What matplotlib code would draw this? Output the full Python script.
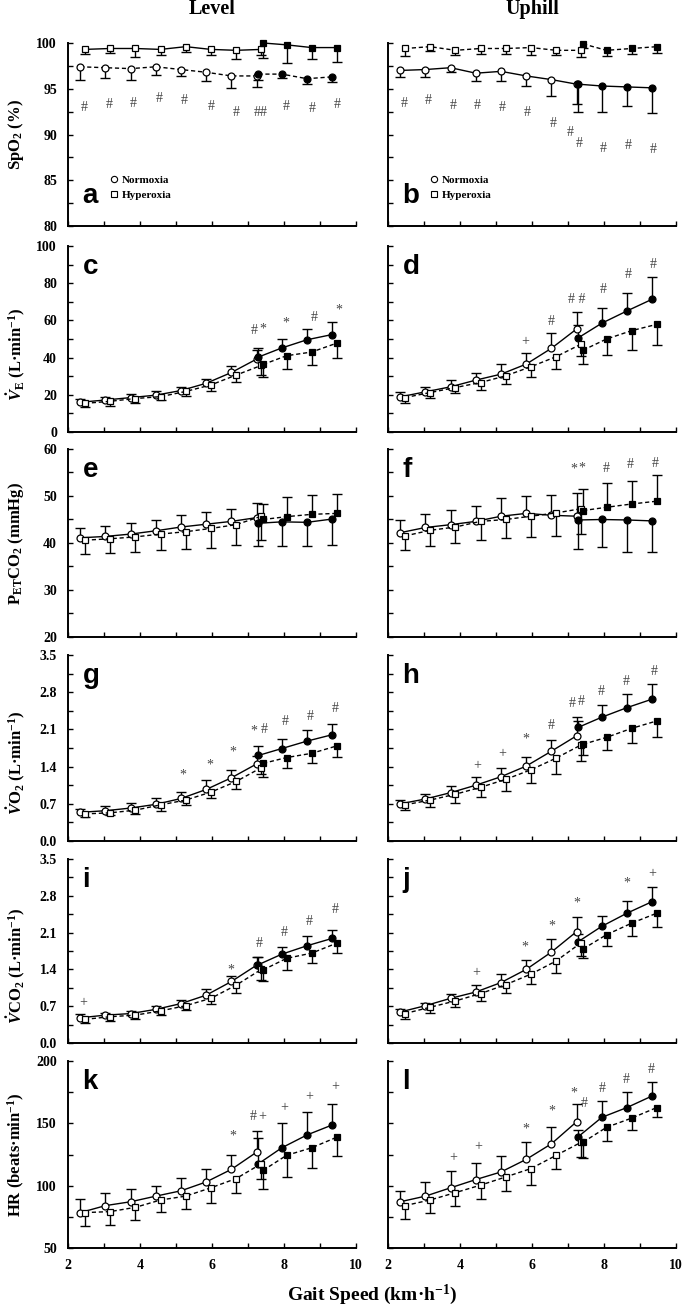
import matplotlib.pyplot as plt
from matplotlib.lines import Line2D
from matplotlib.ticker import MultipleLocator, FormatStrFormatter

plt.rcParams['font.family'] = 'Liberation Serif'
plt.rcParams['font.weight'] = 'bold'
plt.rcParams['mathtext.fontset'] = 'custom'
plt.rcParams['mathtext.rm'] = 'Liberation Serif:bold'
plt.rcParams['mathtext.it'] = 'Liberation Serif:italic:bold'
plt.rcParams['mathtext.bf'] = 'Liberation Serif:bold'

# gait speed of each stage: 8 walking stages (open symbols), 4 running stages (filled)
speed = [2.4, 3.1, 3.8, 4.5, 5.2, 5.9, 6.6, 7.3, 7.35, 8.0, 8.7, 9.4]

# SpO2 (%)
spo2_lv_n = [97.4, 97.3, 97.2, 97.4, 97.1, 96.8, 96.4, 96.4, 96.6, 96.6, 96.1, 96.3]
spo2_lv_n_sd = [1.4, 1.1, 1.2, 0.9, 0.7, 1.0, 1.3, 1.2, 0.6, 0.4, 0.6, 0.6]
spo2_lv_h = [99.3, 99.4, 99.4, 99.3, 99.6, 99.3, 99.2, 99.3, 100.0, 99.8, 99.5, 99.5]
spo2_lv_h_sd = [0.5, 0.5, 0.9, 0.6, 0.6, 0.6, 0.9, 0.6, 1.6, 2.0, 1.3, 1.6]
spo2_up_n = [97.0, 97.1, 97.3, 96.7, 96.9, 96.4, 96.0, 95.5, 95.5, 95.3, 95.2, 95.1]
spo2_up_n_sd = [0.7, 0.8, 0.45, 0.8, 1.1, 1.1, 1.8, 2.2, 3.0, 2.8, 2.1, 2.7]
spo2_up_h = [99.4, 99.6, 99.2, 99.4, 99.4, 99.5, 99.2, 99.2, 99.9, 99.2, 99.4, 99.6]
spo2_up_h_sd = [0.8, 0.5, 0.5, 0.6, 0.6, 0.8, 0.5, 0.7, 0.45, 0.6, 0.6, 0.7]

# VE (L/min)
ve_lv_n = [16.0, 17.2, 18.5, 19.8, 22.3, 26.2, 32.0, 39.2, 40.3, 45.2, 49.6, 52.4]
ve_lv_n_sd = [1.8, 1.8, 1.8, 2.0, 2.0, 2.3, 3.3, 5.0, 5.0, 4.8, 6.0, 6.5]
ve_lv_h = [15.4, 16.5, 18.0, 19.0, 21.8, 25.3, 30.6, 35.8, 36.3, 41.0, 43.0, 47.8]
ve_lv_h_sd = [2.0, 2.5, 2.6, 2.0, 2.5, 3.0, 3.8, 5.0, 6.5, 7.0, 7.0, 8.0]
ve_up_n = [18.9, 21.6, 24.3, 27.9, 31.1, 36.5, 45.0, 55.4, 50.7, 58.5, 65.1, 71.4]
ve_up_n_sd = [2.7, 2.7, 3.6, 3.9, 5.4, 5.8, 8.1, 9.2, 6.8, 8.4, 9.5, 11.9]
ve_up_h = [18.5, 21.2, 23.9, 26.6, 30.2, 35.1, 40.5, 47.3, 44.0, 50.0, 54.5, 57.9]
ve_up_h_sd = [2.7, 2.9, 3.2, 4.1, 4.5, 5.4, 6.7, 6.5, 7.2, 8.6, 10.4, 11.2]

# PETCO2 (mmHg)
pet_lv_n = [41.1, 41.4, 41.9, 42.6, 43.4, 44.0, 44.6, 45.4, 44.2, 44.5, 44.4, 45.1]
pet_lv_n_sd = [2.0, 2.2, 2.4, 2.3, 2.5, 2.6, 2.7, 3.2, 4.9, 5.2, 5.1, 5.5]
pet_lv_h = [40.6, 40.9, 41.3, 41.9, 42.4, 43.1, 43.9, 45.7, 45.0, 45.6, 46.1, 46.3]
pet_lv_h_sd = [3.0, 3.0, 3.2, 3.4, 3.6, 4.1, 4.4, 5.0, 3.3, 4.2, 4.1, 4.2]
pet_up_n = [42.2, 43.3, 43.9, 44.6, 45.7, 46.3, 45.9, 45.7, 44.9, 45.0, 44.9, 44.7]
pet_up_n_sd = [2.7, 2.8, 3.1, 3.2, 3.9, 3.7, 4.3, 5.0, 6.1, 5.8, 6.9, 6.7]
pet_up_h = [41.5, 42.7, 43.4, 44.6, 45.0, 45.7, 46.4, 47.3, 46.9, 47.6, 48.3, 48.9]
pet_up_h_sd = [3.0, 3.4, 3.5, 3.9, 4.0, 4.4, 4.9, 5.3, 4.6, 5.1, 4.9, 5.6]

# VO2 (L/min)
vo2_lv_n = [0.54, 0.57, 0.62, 0.69, 0.80, 0.97, 1.19, 1.45, 1.61, 1.74, 1.88, 2.00]
vo2_lv_n_sd = [0.06, 0.08, 0.09, 0.11, 0.13, 0.17, 0.15, 0.15, 0.18, 0.18, 0.21, 0.20]
vo2_lv_h = [0.51, 0.53, 0.58, 0.68, 0.77, 0.92, 1.12, 1.38, 1.46, 1.57, 1.65, 1.79]
vo2_lv_h_sd = [0.06, 0.05, 0.07, 0.11, 0.09, 0.12, 0.15, 0.11, 0.26, 0.20, 0.18, 0.20]
vo2_up_n = [0.70, 0.79, 0.91, 1.05, 1.21, 1.41, 1.69, 1.98, 2.14, 2.33, 2.51, 2.67]
vo2_up_n_sd = [0.08, 0.09, 0.13, 0.15, 0.17, 0.18, 0.21, 0.35, 0.11, 0.22, 0.26, 0.28]
vo2_up_h = [0.68, 0.77, 0.88, 1.01, 1.16, 1.34, 1.56, 1.81, 1.82, 1.95, 2.12, 2.26]
vo2_up_h_sd = [0.10, 0.13, 0.16, 0.19, 0.21, 0.24, 0.30, 0.30, 0.20, 0.24, 0.27, 0.30]

# VCO2 (L/min)
vco2_lv_n = [0.48, 0.53, 0.56, 0.64, 0.75, 0.91, 1.17, 1.48, 1.49, 1.69, 1.85, 1.99]
vco2_lv_n_sd = [0.07, 0.05, 0.05, 0.06, 0.07, 0.11, 0.10, 0.16, 0.15, 0.13, 0.19, 0.16]
vco2_lv_h = [0.45, 0.50, 0.53, 0.61, 0.71, 0.85, 1.10, 1.40, 1.39, 1.61, 1.71, 1.90]
vco2_lv_h_sd = [0.07, 0.08, 0.07, 0.08, 0.09, 0.11, 0.14, 0.20, 0.21, 0.22, 0.18, 0.18]
vco2_up_n = [0.59, 0.71, 0.85, 0.97, 1.15, 1.40, 1.73, 2.12, 1.93, 2.22, 2.47, 2.69]
vco2_up_n_sd = [0.05, 0.05, 0.08, 0.13, 0.16, 0.17, 0.24, 0.27, 0.15, 0.20, 0.24, 0.28]
vco2_up_h = [0.56, 0.68, 0.80, 0.94, 1.11, 1.31, 1.56, 1.91, 1.79, 2.06, 2.28, 2.47]
vco2_up_h_sd = [0.10, 0.10, 0.11, 0.14, 0.15, 0.19, 0.22, 0.25, 0.18, 0.21, 0.24, 0.27]

# HR (beats/min)
hr_lv_n = [78.4, 84.0, 87.1, 91.6, 95.9, 103.0, 113.1, 126.9, 117.6, 130.4, 140.7, 148.7]
hr_lv_n_sd = [10.6, 9.8, 9.9, 8.5, 10.6, 10.7, 11.7, 17.3, 20.4, 19.6, 18.1, 16.7]
hr_lv_h = [78.4, 79.2, 82.6, 88.5, 91.6, 98.3, 105.7, 117.6, 112.3, 124.3, 130.4, 138.9]
hr_lv_h_sd = [10.6, 10.6, 10.1, 9.9, 10.3, 12.0, 11.9, 12.4, 15.1, 17.3, 16.2, 15.4]
hr_up_n = [87.1, 91.6, 98.3, 104.9, 111.0, 121.1, 133.6, 151.3, 139.4, 154.8, 162.7, 172.0]
hr_up_n_sd = [8.8, 11.4, 13.5, 13.3, 12.7, 13.8, 13.7, 14.6, 5.0, 13.2, 12.8, 11.4]
hr_up_h = [84.0, 88.5, 94.4, 100.4, 107.0, 113.7, 124.3, 134.9, 134.9, 146.8, 154.2, 162.7]
hr_up_h_sd = [10.7, 10.6, 10.7, 11.4, 11.1, 12.8, 11.2, 12.0, 12.5, 10.6, 9.5, 7.9]

# significance marks (x, y, symbol)
ann_a = [(2.46, 93.0, '#'), (3.15, 93.3, '#'), (3.82, 93.4, '#'), (4.54, 93.9, '#'), (5.24, 93.7, '#'),
         (5.97, 93.1, '#'), (6.66, 92.4, '#'), (7.36, 92.4, '##'), (8.06, 93.1, '#'), (8.78, 92.8, '#'),
         (9.48, 93.25, '#')]
ann_b = [(2.44, 93.4, '#'), (3.11, 93.7, '#'), (3.80, 93.2, '#'), (4.48, 93.2, '#'), (5.17, 93.0, '#'),
         (5.86, 92.4, '#'), (6.59, 91.2, '#'), (7.06, 90.2, '#'), (7.31, 89.0, '#'), (7.97, 88.5, '#'),
         (8.67, 88.8, '#'), (9.38, 88.4, '#')]
ann_c = [(7.16, 54.7, '#'), (7.41, 55.5, '*'), (8.06, 58.5, '*'), (8.83, 61.5, '#'), (9.52, 65.5, '*')]
ann_d = [(5.82, 48.6, '+'), (6.53, 59.4, '#'), (7.23, 71.1, '# #'), (7.97, 76.4, '#'), (8.67, 84.5, '#'),
         (9.36, 90.3, '#')]
ann_e = []
ann_f = [(7.15, 55.7, '*'), (7.38, 55.9, '*'), (8.05, 55.9, '#'), (8.72, 56.7, '#'), (9.42, 56.9, '#')]
ann_g = [(5.19, 1.24, '*'), (5.94, 1.43, '*'), (6.59, 1.68, '*'), (7.16, 2.06, '*'), (7.44, 2.09, '#'),
         (8.04, 2.25, '#'), (8.74, 2.34, '#'), (9.41, 2.50, '#')]
ann_h = [(4.49, 1.41, '+'), (5.17, 1.65, '+'), (5.84, 1.91, '*'), (6.53, 2.18, '#'), (7.12, 2.59, '#'),
         (7.38, 2.62, '#'), (7.92, 2.82, '#'), (8.63, 3.01, '#'), (9.39, 3.19, '#')]
ann_i = [(2.43, 0.76, '+'), (6.52, 1.38, '*'), (7.32, 1.89, '#'), (8.00, 2.10, '#'), (8.71, 2.32, '#'),
         (9.41, 2.54, '#')]
ann_j = [(4.45, 1.34, '+'), (5.81, 1.82, '*'), (6.54, 2.23, '*'), (7.24, 2.66, '*'), (8.63, 3.04, '*'),
         (9.34, 3.22, '+')]
ann_k = [(6.59, 140.2, '*'), (7.15, 155.3, '#'), (7.39, 155.3, '+'), (8.00, 162.7, '+'), (8.71, 171.2, '+'),
         (9.41, 179.2, '+')]
ann_l = [(3.80, 122.4, '+'), (4.51, 131.4, '+'), (5.84, 145.5, '*'), (6.54, 160.1, '*'), (7.17, 173.9, '*'),
         (7.46, 165.9, '#'), (7.94, 178.1, '#'), (8.63, 185.3, '#'), (9.31, 193.2, '#')]

N_SHIFT = -0.06
H_SHIFT = 0.07
DASH = (0, (3, 2))

# rows: (top px, bottom px, ylim, major, minor, fmt, ylabel, label y)
rows = [
    (43, 226, (80, 100), 5, 2.5, '%d', 'SpO$_2$ (%)', 0.5),
    (246, 432, (0, 100), 20, 10, '%d', r'$\dot{V}_\mathrm{E}$ (L·min$^{-1}$)', 0.42),
    (449, 637, (20, 60), 10, 5, '%d', r'P$_\mathrm{ET}$CO$_2$ (mmHg)', 0.5),
    (655, 841, (0, 3.5), 0.7, 0.35, '%.1f', r'$\dot{V}$O$_2$ (L·min$^{-1}$)', 0.42),
    (859, 1043, (0, 3.5), 0.7, 0.35, '%.1f', r'$\dot{V}$CO$_2$ (L·min$^{-1}$)', 0.42),
    (1061, 1248, (50, 200), 50, 25, '%d', 'HR (beats·min$^{-1}$)', 0.5),
]

# panels: letter, row, col, normoxia, normoxia sd, hyperoxia, hyperoxia sd, marks,
# line style (norm, hyp), error direction (norm walk, norm run, hyp walk, hyp run)
panels = [
    ('a', 0, 0, spo2_lv_n, spo2_lv_n_sd, spo2_lv_h, spo2_lv_h_sd, ann_a, (DASH, '-'), (-1, -1, -1, -1)),
    ('b', 0, 1, spo2_up_n, spo2_up_n_sd, spo2_up_h, spo2_up_h_sd, ann_b, ('-', DASH), (-1, -1, -1, -1)),
    ('c', 1, 0, ve_lv_n, ve_lv_n_sd, ve_lv_h, ve_lv_h_sd, ann_c, ('-', DASH), (1, 1, -1, -1)),
    ('d', 1, 1, ve_up_n, ve_up_n_sd, ve_up_h, ve_up_h_sd, ann_d, ('-', DASH), (1, 1, -1, -1)),
    ('e', 2, 0, pet_lv_n, pet_lv_n_sd, pet_lv_h, pet_lv_h_sd, ann_e, ('-', DASH), (1, -1, -1, 1)),
    ('f', 2, 1, pet_up_n, pet_up_n_sd, pet_up_h, pet_up_h_sd, ann_f, ('-', DASH), (1, -1, -1, 1)),
    ('g', 3, 0, vo2_lv_n, vo2_lv_n_sd, vo2_lv_h, vo2_lv_h_sd, ann_g, ('-', DASH), (1, 1, -1, -1)),
    ('h', 3, 1, vo2_up_n, vo2_up_n_sd, vo2_up_h, vo2_up_h_sd, ann_h, ('-', DASH), (1, 1, -1, -1)),
    ('i', 4, 0, vco2_lv_n, vco2_lv_n_sd, vco2_lv_h, vco2_lv_h_sd, ann_i, ('-', DASH), (1, 1, -1, -1)),
    ('j', 4, 1, vco2_up_n, vco2_up_n_sd, vco2_up_h, vco2_up_h_sd, ann_j, ('-', DASH), (1, 1, -1, -1)),
    ('k', 5, 0, hr_lv_n, hr_lv_n_sd, hr_lv_h, hr_lv_h_sd, ann_k, ('-', DASH), (1, 1, -1, -1)),
    ('l', 5, 1, hr_up_n, hr_up_n_sd, hr_up_h, hr_up_h_sd, ann_l, ('-', DASH), (1, 1, -1, -1)),
]

W, H = 685, 1306
col_left = [68, 388]
col_width = 288


def draw(ax, y, sd, marker, ms, ls, dirs, shift):
    parts = [(0, 8, 'white', dirs[0]), (8, 12, 'black', dirs[1])]
    for i0, i1, face, d in parts:
        xs = [s + shift for s in speed[i0:i1]]
        ys = y[i0:i1]
        ends = [v + d * e for v, e in zip(ys, sd[i0:i1])]
        ax.vlines(xs, ys, ends, color='black', lw=1.0, zorder=2, clip_on=False)
        ax.plot(xs, ends, ls='none', marker='_', ms=7, mew=1.0, color='black', zorder=2, clip_on=False)
        ax.plot(xs, ys, ls=ls, lw=1.0, color='black', marker=marker, ms=ms, mfc=face,
                mec='black', mew=0.9, zorder=3, clip_on=False)


fig = plt.figure(figsize=(W / 100, H / 100), dpi=100)

for letter, r, c, yn, sdn, yh, sdh, ann, styles, dirs in panels:
    top, bot, ylim, major, minor, fmt, ylabel, ly = rows[r]
    ax = fig.add_axes([col_left[c] / W, 1 - bot / H, col_width / W, (bot - top) / H])
    draw(ax, yn, sdn, 'o', 5.0, styles[0], dirs[:2], N_SHIFT)
    draw(ax, yh, sdh, 's', 4.8, styles[1], dirs[2:], H_SHIFT)
    for x, yv, t in ann:
        ax.text(x, yv, t, ha='center', va='center', fontsize=10, fontweight='normal', color='#444444')

    ax.set_xlim(2, 10)
    ax.set_ylim(*ylim)
    ax.xaxis.set_major_locator(MultipleLocator(2))
    ax.xaxis.set_minor_locator(MultipleLocator(1))
    ax.yaxis.set_major_locator(MultipleLocator(major))
    ax.yaxis.set_minor_locator(MultipleLocator(minor))
    ax.yaxis.set_major_formatter(FormatStrFormatter(fmt))
    for s in ('top', 'right'):
        ax.spines[s].set_visible(False)
    for s in ('left', 'bottom'):
        ax.spines[s].set_linewidth(1.4)
    ax.tick_params(which='both', direction='in', length=3.5, width=1.0, labelsize=10, pad=8)
    ax.tick_params(axis='x', labelbottom=(r == 5))
    ax.tick_params(axis='y', labelleft=(c == 0))

    if letter in 'ab':
        ax.text(0.05, 0.125, letter, transform=ax.transAxes, fontsize=20, fontweight='bold',
                family='Liberation Sans', ha='left', va='baseline')
        handles = [Line2D([], [], ls='none', marker='o', ms=4.5, mfc='white', mec='black', mew=0.8),
                   Line2D([], [], ls='none', marker='s', ms=4.5, mfc='white', mec='black', mew=0.8)]
        ax.legend(handles, ['Normoxia', 'Hyperoxia'], loc='upper left', bbox_to_anchor=(0.145, 0.28),
                  frameon=False, fontsize=8, handlelength=0.7, handletextpad=0.4,
                  labelspacing=0.5, borderpad=0, borderaxespad=0)
    else:
        ax.text(0.05, 0.85, letter, transform=ax.transAxes, fontsize=20, fontweight='bold',
                family='Liberation Sans', ha='left', va='baseline')

    if c == 0:
        fig.text(16 / W, 1 - (top + (bot - top) * (1 - ly)) / H, ylabel, rotation=90,
                 ha='center', va='center', fontsize=12)

fig.text((68 + 144) / W, 1 - 14 / H, 'Level', ha='center', va='baseline', fontsize=14.5)
fig.text((388 + 144) / W, 1 - 14 / H, 'Uphill', ha='center', va='baseline', fontsize=14.5)
fig.text(372 / W, 1 - 1300 / H, 'Gait Speed (km·h$^{-1}$)', ha='center', va='baseline', fontsize=14)

fig.savefig('out.png', dpi=100)
